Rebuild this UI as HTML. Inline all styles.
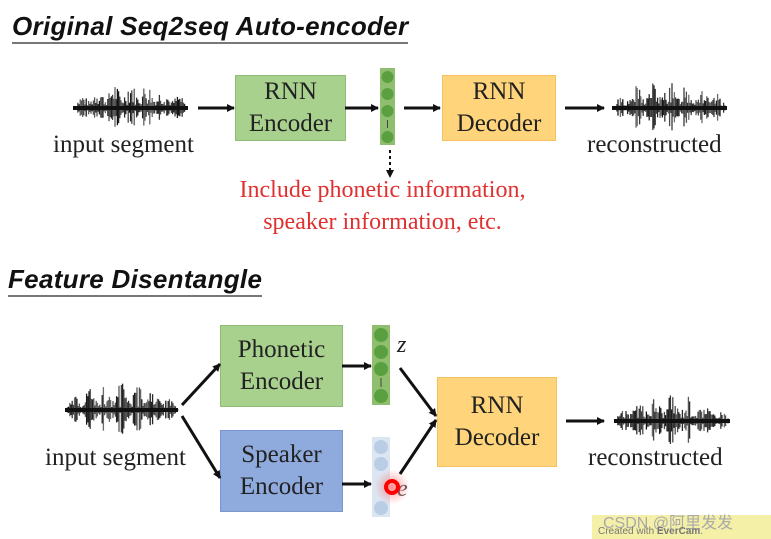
<!DOCTYPE html>
<html><head><meta charset="utf-8"><style>
body{margin:0;width:771px;height:539px;background:#fff;overflow:hidden;position:relative;font-family:"Liberation Serif",serif}
.t{position:absolute;white-space:nowrap}
.h{font-family:"Liberation Sans",sans-serif;font-style:italic;font-weight:bold;font-size:26px;color:#111;border-bottom:2px solid #777;padding-bottom:0px;letter-spacing:0.3px}
.box{position:absolute;display:flex;align-items:center;justify-content:center;text-align:center;font-size:25px;line-height:32px;color:#222}
.g{background:#a9d18e;border:1px solid #8fbc74}
.o{background:#ffd47a;border:1px solid #f5c060}
.b{background:#8faadc;border:1px solid #7a96cc}
.lbl{font-size:25px;color:#222}
</style></head><body>
<div class="t h" style="left:12px;top:11px">Original Seq2seq Auto-encoder</div>
<div class="t h" style="left:8px;top:264px">Feature Disentangle</div>

<div class="box g" style="left:235px;top:75px;width:109px;height:64px">RNN<br>Encoder</div>
<div class="box o" style="left:442px;top:75px;width:112px;height:64px">RNN<br>Decoder</div>
<div class="box g" style="left:220px;top:325px;width:121px;height:80px">Phonetic<br>Encoder</div>
<div class="box b" style="left:220px;top:430px;width:121px;height:80px">Speaker<br>Encoder</div>
<div class="box o" style="left:437px;top:377px;width:118px;height:88px">RNN<br>Decoder</div>

<div class="t lbl" style="left:53px;top:131px">input segment</div>
<div class="t lbl" style="left:587px;top:131px">reconstructed</div>
<div class="t lbl" style="left:45px;top:444px">input segment</div>
<div class="t lbl" style="left:588px;top:444px">reconstructed</div>
<div class="t" style="left:210px;top:174px;font-size:24px;color:#e03030;text-align:center;width:345px;line-height:32px">Include phonetic information,<br>speaker information, etc.</div>
<div class="t" style="left:397px;top:332px;font-size:24px;font-style:italic;color:#222">z</div>
<div class="t" style="left:397px;top:476px;font-size:24px;font-style:italic;color:#555">e</div>

<svg width="771" height="539" style="position:absolute;left:0;top:0" id="s">
<defs><marker id="a" markerWidth="8" markerHeight="8" refX="7" refY="4" orient="auto" markerUnits="userSpaceOnUse"><path d="M0,0L8,4L0,8z" fill="#111"/></marker>
<radialGradient id="rg"><stop offset="0" stop-color="#ff4040" stop-opacity=".6"/><stop offset="1" stop-color="#ff8080" stop-opacity="0"/></radialGradient></defs>
<rect x="380" y="68" width="15" height="77" fill="#8fbf6e"/>
<g fill="#5aa040"><circle cx="387.5" cy="77" r="6"/><circle cx="387.5" cy="94" r="6"/><circle cx="387.5" cy="111" r="6"/><circle cx="387.5" cy="137" r="6"/></g>
<line x1="387.5" y1="120" x2="387.5" y2="128" stroke="#444"/>
<rect x="372" y="325" width="18" height="80" fill="#8fbf6e"/>
<g fill="#5aa040"><circle cx="381" cy="335" r="7"/><circle cx="381" cy="352" r="7"/><circle cx="381" cy="369" r="7"/><circle cx="381" cy="396" r="7"/></g>
<line x1="381" y1="378" x2="381" y2="387" stroke="#444"/>
<rect x="372" y="437" width="18" height="80" fill="#dce6f2"/>
<g fill="#b9cde5"><circle cx="381" cy="447" r="7"/><circle cx="381" cy="464" r="7"/><circle cx="381" cy="508" r="7"/></g>
<circle cx="392" cy="487" r="18" fill="url(#rg)"/>
<circle cx="392" cy="487" r="6" fill="none" stroke="#f00" stroke-width="4"/>
<g stroke="#111" stroke-width="3" fill="none" marker-end="url(#a)">
<line x1="198" y1="108" x2="234" y2="108"/>
<line x1="345" y1="108" x2="378" y2="108"/>
<line x1="404" y1="108" x2="440" y2="108"/>
<line x1="565" y1="108" x2="604" y2="108"/>
<line x1="182" y1="405" x2="220" y2="364"/>
<line x1="182" y1="416" x2="220" y2="478"/>
<line x1="342" y1="366" x2="371" y2="366"/>
<line x1="342" y1="484" x2="371" y2="484"/>
<line x1="400" y1="368" x2="436" y2="416"/>
<line x1="400" y1="474" x2="436" y2="420"/>
<line x1="566" y1="421" x2="604" y2="421"/>
</g>
<line x1="390" y1="150" x2="390" y2="170" stroke="#111" stroke-width="2" stroke-dasharray="3,3"/>
<path d="M386,170L390,178L394,170z" fill="#111"/>
<g id="w"></g>
</svg>
<div class="t" style="left:592px;top:515px;width:179px;height:24px;background:#f4f0a8"></div>
<div class="t" style="left:603px;top:509px;font-family:'Liberation Sans','Noto Sans CJK SC',sans-serif;font-size:16px;color:#aaa">CSDN @阿里发发</div>
<div class="t" style="left:598px;top:526px;font-family:'Liberation Sans',sans-serif;font-size:10px;color:#777">Created with <b>EverCam</b>.</div>
<script>
var g=document.getElementById('w'),s='';
function wave(x0,x1,cy,seed){var r=seed;function rnd(){r=(r*9301+49297)%233280;return r/233280;}
for(var x=x0;x<=x1;x+=1.2){var t=(x-x0)/(x1-x0);var env=Math.pow(Math.sin(Math.PI*t),0.5);var burst=0.3+0.7*Math.pow(Math.abs(Math.sin(t*22)),2);var h=(3+rnd()*26*burst)*env;
s+='<line x1="'+x+'" y1="'+(cy-h)+'" x2="'+x+'" y2="'+(cy+h*0.9)+'" stroke="#111" stroke-width="1.3" opacity="'+(0.6+rnd()*0.4)+'"/>';}
s+='<line x1="'+x0+'" y1="'+cy+'" x2="'+x1+'" y2="'+cy+'" stroke="#111" stroke-width="4"/>';}
wave(73,188,108,7);wave(612,727,108,13);wave(65,178,410,21);wave(614,730,421,33);
g.innerHTML=s;
</script>
</body></html>
